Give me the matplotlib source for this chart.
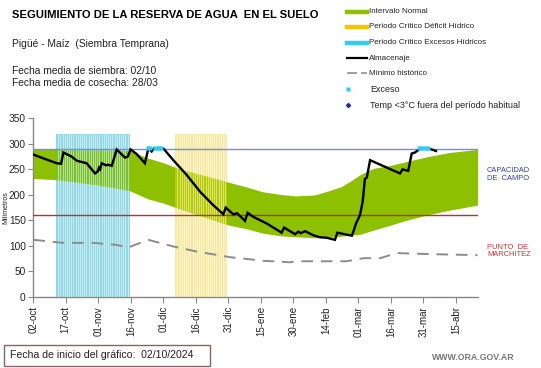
import numpy as np
import matplotlib
matplotlib.use('Agg')
import matplotlib.pyplot as plt
from matplotlib.lines import Line2D
from matplotlib.patches import Rectangle

plt.rcParams['font.family'] = ['Liberation Sans', 'DejaVu Sans']

# ---------------- data (x = days since 02/10/2024) ----------------
tick_days = [0, 15, 30, 45, 60, 75, 90, 105, 120, 135, 150, 165, 180, 195]
tick_labels = ['02-oct', '17-oct', '01-nov', '16-nov', '01-dic', '16-dic', '31-dic',
               '15-ene', '30-ene', '14-feb', '01-mar', '16-mar', '31-mar', '15-abr']

band_days = [0, 10, 20, 30, 44, 53, 60, 68, 78, 90, 98, 106, 114, 121, 130, 137,
             142, 146, 151, 157, 165, 172, 182, 192, 205]
band_upper = [289, 289, 288, 288, 287, 272, 263, 250, 239, 225, 216, 206, 201, 198,
              200, 209, 216, 226, 240, 252, 258, 265, 275, 283, 289]
band_lower = [232, 230, 225, 219, 209, 192, 184, 172, 158, 141, 134, 125, 120, 118,
              116, 117, 119, 121, 123, 131, 141, 150, 161, 170, 180]

alm_days = [0, 5, 10.8, 12.8, 13.9, 17.7, 20, 24.6, 28.5, 29.7, 30.3, 30.8, 31.6, 33.5,
            34.6, 36.2, 38.5, 42.3, 43.6, 44.9, 47.7, 51.5, 53.1, 54.6, 55.7, 58.5, 60,
            64.6, 70.8, 77, 83, 87.7, 88.8, 92.3, 94.1, 97.7, 98.9, 101.5, 107.7, 114.6,
            115.7, 120.8, 122.3, 123.4, 125.4, 129.2, 132.3, 135.4, 139.2, 140.3, 147,
            147.7, 148.9, 150.7, 152, 153, 153.9, 155.4, 169.2, 170.4, 173, 174.6, 176.1,
            177.7, 178.4, 181.8, 183.8, 185.8]
alm_vals = [279, 271, 262, 261, 283, 275, 267, 262, 242, 246, 253, 250, 262, 258,
            259, 257, 289, 273, 275, 289, 280, 262, 291, 285, 291, 291, 291,
            268, 239, 206, 180, 162, 175, 162, 164, 149, 165, 157, 144, 126,
            136, 123, 128, 125, 129, 121, 117, 116, 112, 126, 120,
            128, 144, 160, 187, 231, 234, 268, 242, 250, 247, 281, 283,
            288, 291, 291, 289, 286]

min_days = [0, 13.8, 27.7, 38.5, 43.8, 53, 64.6, 75.4, 90.8, 106, 118.5, 121.5,
            144.6, 152.3, 160, 167.7, 183, 205]
min_vals = [112, 106, 106, 102, 97, 112, 99, 89, 78, 71, 68, 70, 70, 76, 76, 86, 84, 82]

exceso_days = [53, 54, 56, 57, 58, 59, 178, 179, 180, 181, 182]
exceso_vals = [291, 291, 291, 291, 291, 291, 291, 291, 291, 291, 291]

excesos_period_days = list(range(11, 45))
excesos_period_vals = [320] * len(excesos_period_days)
deficit_period_days = list(range(66, 90))
deficit_period_vals = [320] * len(deficit_period_days)

capacidad_campo = 290
punto_marchitez = 160

# ---------------- figure ----------------
W, H = 541, 368
fig = plt.figure(figsize=(W / 100, H / 100), dpi=100)
ax = fig.add_axes([33.3 / W, (H - 297) / H, (478 - 33.3) / W, (297 - 118.3) / H])

green = '#8DC000'
cyan_light = '#92D9E5'
yellow_light = '#F5E9A2'

# critical periods (light columns)
ax.bar(excesos_period_days, excesos_period_vals, width=1.0, color=cyan_light,
       lw=0, zorder=1)
ax.bar(deficit_period_days, deficit_period_vals, width=1.0, color=yellow_light,
       lw=0, zorder=1)

# normal interval
poly = ax.fill_between(band_days, band_lower, band_upper, color=green, lw=0, zorder=2)
clip_path = poly.get_paths()[0]

# tint of the critical periods over the green band
for days, vals, col, a in [(excesos_period_days, excesos_period_vals, '#30C8E0', 0.22),
                           (deficit_period_days, deficit_period_vals, '#F5E000', 0.40)]:
    bars = ax.bar(days, vals, width=1.0, color=col, alpha=a, lw=0, zorder=2.5)
    for b in bars:
        b.set_clip_path(clip_path, ax.transData)

# thin white column separations
for days, vals in [(excesos_period_days, excesos_period_vals),
                   (deficit_period_days, deficit_period_vals)]:
    ax.vlines(np.array(days[1:]) - 0.5, 0, vals[1:], color='white', lw=0.45,
              alpha=0.75, zorder=2.7)

ax.axhline(capacidad_campo, color='#6F8FDF', lw=1.0, zorder=3)
ax.axhline(punto_marchitez, color='#B8322A', lw=1.0, zorder=3)

ax.plot(min_days, min_vals, color='#8C8C8C', lw=1.4, dashes=(6, 4), zorder=3)
ax.plot(alm_days, alm_vals, color='black', lw=1.7, zorder=4, solid_joinstyle='miter')
ax.plot(exceso_days, exceso_vals, ls='none', marker='s', ms=2.6, color='#33CCEE',
        mec='none', zorder=5)

ax.set_xlim(0, 205.2)
ax.set_ylim(0, 350)
ax.set_yticks(range(0, 351, 50))
ax.set_xticks(tick_days)
ax.set_xticklabels(tick_labels, rotation=90, fontsize=7, color='#222222')
ax.tick_params(axis='y', labelsize=7.3, colors='#222222', length=3.5, width=0.8,
               pad=2, color='#888888')
ax.tick_params(axis='x', length=4.5, width=0.8, pad=2, color='#888888')
for s in ['top', 'right']:
    ax.spines[s].set_visible(False)
for s in ['left', 'bottom']:
    ax.spines[s].set_color('#888888')
    ax.spines[s].set_linewidth(1.0)


def fx(x):
    return x / W


def fy(y):
    return 1 - y / H


fig.text(fx(6), fy(208), 'Milímetros', rotation=90, fontsize=5, ha='center',
         va='center', color='#222222')

# titles
fig.text(fx(12), fy(15), 'SEGUIMIENTO DE LA RESERVA DE AGUA  EN EL SUELO',
         fontsize=8.1, fontweight='bold', va='center', ha='left', color='black')
fig.text(fx(12), fy(44), 'Pigüé - Maíz  (Siembra Temprana)', fontsize=7.4,
         va='center', ha='left', color='#222222')
fig.text(fx(12), fy(71), 'Fecha media de siembra: 02/10', fontsize=7.4,
         va='center', ha='left', color='#222222')
fig.text(fx(12), fy(83), 'Fecha media de cosecha: 28/03', fontsize=7.4,
         va='center', ha='left', color='#222222')

# legend
lx0, lx1, tx = 346.5, 366.5, 369
rows = [11.7, 26.7, 42.7, 58.3, 73.3, 89.3, 105]
fig.add_artist(Line2D([fx(lx0), fx(lx1)], [fy(rows[0])] * 2, color=green, lw=3.2))
fig.add_artist(Line2D([fx(lx0), fx(lx1)], [fy(rows[1])] * 2, color='#F5C400', lw=3.2))
fig.add_artist(Line2D([fx(lx0), fx(lx1)], [fy(rows[2])] * 2, color='#33CCEE', lw=3.2))
fig.add_artist(Line2D([fx(lx0), fx(lx1)], [fy(rows[3])] * 2, color='black', lw=1.6))
fig.add_artist(Line2D([fx(lx0), fx(lx1)], [fy(rows[4])] * 2, color='#8C8C8C', lw=1.2,
                      dashes=(6, 2.5)))
fig.add_artist(Line2D([fx(348)], [fy(rows[5])], marker='s', ms=2.4, color='#33CCEE',
                      mec='none', ls='none'))
fig.add_artist(Line2D([fx(348)], [fy(rows[6])], marker='D', ms=3, color='#1A2A9A',
                      mec='none', ls='none'))
leg_texts = ['Intervalo Normal', 'Periodo Crítico Déficit Hídrico',
             'Periodo Crítico Excesos Hídricos', 'Almacenaje', 'Mínimo histórico',
             'Exceso', 'Temp <3°C fuera del período habitual']
for i, (r, t) in enumerate(zip(rows, leg_texts)):
    fig.text(fx(tx if i < 5 else 370), fy(r), t, fontsize=5.8 if i < 5 else 6.5,
             va='center', ha='left', color='#222222')

# right side labels
fig.text(fx(487), fy(174.5), 'CAPACIDAD\nDE  CAMPO', fontsize=5.4, color='#3A3AA8',
         va='center', ha='left', linespacing=1.05)
fig.text(fx(487), fy(251), 'PUNTO  DE\nMARCHITEZ', fontsize=5.4, color='#C83030',
         va='center', ha='left', linespacing=1.05)

# bottom
fig.add_artist(Rectangle((fx(3.5), fy(366)), (210 - 3.5) / W, (366 - 345) / H,
                         fill=False, edgecolor='#8A6464', lw=1.0))
fig.text(fx(10), fy(355.5), 'Fecha de inicio del gráfico:  02/10/2024', fontsize=7.6,
         va='center', ha='left', color='#222222')
fig.text(fx(515), fy(358), 'WWW.ORA.GOV.AR', fontsize=6.3, va='center', ha='right',
         color='#777777', fontweight='bold')

fig.savefig('out.png', dpi=100)
